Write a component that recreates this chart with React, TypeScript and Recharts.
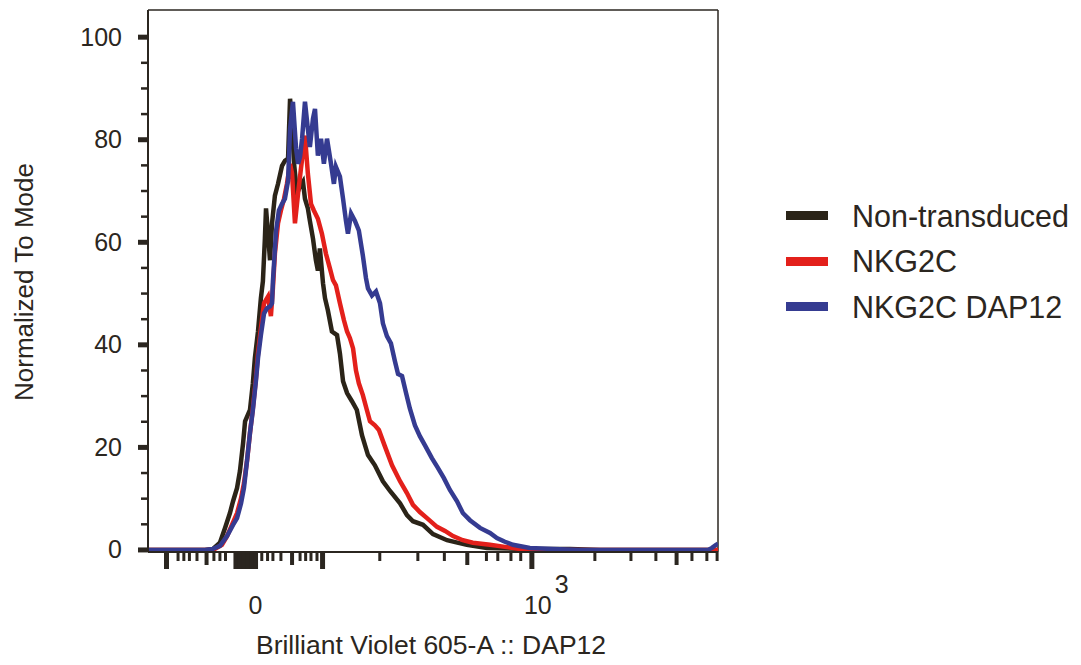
import React from 'react';
import { LineChart, Line, XAxis, YAxis, ReferenceLine } from 'recharts';

// ---------- data (x = display channel 0..256, y = % of mode) ----------
const CHANNEL_DOMAIN: [number, number] = [0, 256];
const Y_DOMAIN: [number, number] = [-0.4, 105.3];

const nonTransducedX = [0, 25.6, 29.2, 32.3, 34.6, 36.8, 38.2, 40.0, 41.3, 42.7, 43.6, 45.8, 47.1, 48.0, 49.4, 50.7, 51.6, 52.5, 53.0, 53.9, 54.8, 55.7, 57.0, 58.4, 60.2, 61.5, 62.9, 63.8, 64.7, 65.6, 66.9, 68.3, 69.6, 70.5, 71.8, 72.7, 74.1, 75.4, 76.3, 77.2, 78.6, 79.5, 80.8, 82.6, 84.9, 86.2, 87.6, 89.4, 91.6, 93.8, 96.1, 98.8, 101.9, 105.5, 108.7, 113.2, 116.3, 119.0, 123.5, 128.0, 134.3, 143.2, 152.2, 171.5, 189.5, 203, 256];
const nonTransducedY = [0, 0, 0.2, 1.4, 4.3, 7.2, 9.5, 12.1, 15.4, 20.8, 25.1, 27.3, 32.5, 37.4, 42.6, 49.1, 52.4, 60.7, 66.6, 61.7, 56.5, 63.7, 69.1, 71.4, 74.9, 75.9, 76.3, 88.0, 83.1, 75.3, 69.5, 70.9, 71.8, 68.5, 66.6, 64.2, 60.7, 56.5, 54.5, 58.8, 52.0, 49.1, 46.7, 42.6, 41.9, 38.3, 32.9, 30.6, 29.0, 27.3, 22.4, 18.5, 16.5, 13.4, 11.5, 9.1, 6.8, 5.6, 4.9, 3.1, 1.9, 1.0, 0.4, 0.2, 0.2, 0, 0];

const nkg2cX = [0, 26.9, 30.1, 33.2, 35.5, 37.7, 40.0, 41.8, 43.1, 44.5, 45.8, 47.1, 48.5, 49.4, 50.7, 52.1, 53.9, 55.2, 56.1, 57.0, 58.4, 59.7, 61.1, 62.4, 63.8, 64.7, 66.0, 67.4, 68.7, 70.5, 71.8, 73.2, 74.5, 76.3, 78.1, 79.9, 81.7, 83.1, 84.4, 86.2, 88.0, 89.4, 90.7, 92.1, 93.4, 94.7, 96.5, 98.3, 99.7, 101.9, 103.7, 106.4, 109.6, 113.2, 116.3, 119.0, 122.1, 125.3, 129.8, 133.4, 137.0, 141.4, 145.9, 153.6, 160.3, 167.0, 176, 256];
const nkg2cY = [0, 0, 0.2, 1.0, 2.7, 4.9, 7.2, 10.1, 13.0, 17.5, 22.8, 27.6, 33.5, 38.3, 43.2, 48.1, 49.4, 45.6, 51.0, 57.8, 63.7, 66.2, 68.5, 71.4, 75.3, 73.4, 63.7, 69.5, 74.4, 80.8, 73.4, 67.5, 66.2, 64.6, 61.7, 57.8, 54.9, 52.6, 51.6, 48.1, 44.8, 42.6, 41.3, 39.3, 35.0, 32.5, 30.2, 27.3, 25.1, 24.3, 23.4, 20.2, 16.5, 13.4, 11.1, 8.8, 7.4, 6.2, 4.5, 3.7, 2.7, 1.9, 1.4, 1.0, 0.6, 0.2, 0, 0];

const nkg2cDap12X = [0, 25.6, 29.2, 32.3, 35.5, 38.2, 40.0, 41.8, 43.1, 44.5, 45.8, 47.1, 48.5, 49.4, 50.7, 52.1, 53.4, 54.8, 55.7, 56.1, 57.5, 58.8, 60.2, 61.5, 62.9, 63.8, 65.1, 66.5, 67.4, 68.3, 69.2, 70.5, 71.8, 72.7, 74.1, 75.0, 76.3, 77.7, 79.0, 80.4, 82.2, 83.5, 84.4, 86.2, 87.6, 88.9, 89.8, 91.2, 92.9, 94.7, 96.5, 97.9, 98.8, 100.6, 102.4, 104.2, 105.5, 107.3, 109.1, 110.9, 112.3, 114.1, 115.9, 117.6, 119.9, 122.1, 124.4, 127.5, 130.2, 132.9, 135.6, 138.8, 141.4, 144.6, 149.1, 153.6, 156.7, 160.3, 163.9, 171.5, 181.9, 194, 251.5, 253.3, 255.1, 256];
const nkg2cDap12Y = [0, 0, 0.2, 0.8, 2.7, 4.9, 6.2, 9.1, 12.1, 17.5, 22.8, 27.3, 33.1, 37.4, 41.9, 46.1, 47.1, 47.5, 48.1, 52.4, 62.1, 66.2, 67.5, 68.5, 72.0, 82.1, 87.4, 78.3, 75.3, 76.7, 80.2, 87.4, 82.1, 78.6, 84.1, 86.0, 76.9, 80.2, 75.3, 80.2, 75.3, 71.4, 74.7, 72.8, 68.5, 64.2, 61.7, 65.6, 64.2, 62.3, 57.4, 53.0, 51.0, 49.6, 50.4, 48.1, 44.2, 41.7, 40.3, 36.8, 34.3, 33.9, 30.6, 27.6, 24.3, 22.2, 20.4, 17.9, 16.0, 14.0, 11.7, 9.5, 7.2, 5.8, 4.3, 3.3, 2.3, 1.6, 1.0, 0.4, 0.2, 0, 0, 0.4, 1.0, 1.2];

const seriesNames = ['Non-transduced', 'NKG2C', 'NKG2C DAP12'];
const seriesColors = ['#2b2418', '#e3201b', '#353b91'];

// x-axis tick positions (display channels) on the biexponential scale
const xMajorTicks = [8.3, 39.5, 41.3, 43.1, 44.9, 46.7, 48.3, 78.4, 172.4];
const xMediumTicks = [26.3, 64.7, 143.4, 237.4];
const xMinorTicks = [13.5, 16.1, 18.6, 22.0, 29.6, 32.3, 34.8, 51.1, 53.7, 56.1, 59.7, 68.3, 70.8, 73.2, 75.9, 104.1, 121.2, 133.1, 152.0, 157.1, 163.0, 167.4, 200.7, 216.9, 228.1, 244.3, 251.0, 255.6];
const xZeroLabelAt = 48.3;
const xDecadeLabelAt = 172.4;
const xZeroLabel = '0';
const xDecadeBase = '10';
const xDecadeExp = '3';

const yTicks = [0, 5, 10, 15, 20, 25, 30, 35, 40, 45, 50, 55, 60, 65, 70, 75, 80, 85, 90, 95, 100];
const yLabelled = [0, 20, 40, 60, 80, 100];

const xTitle = 'Brilliant Violet 605-A :: DAP12';
const yTitle = 'Normalized To Mode';

// ---------- helpers ----------
const FONT = '"Liberation Sans", Arial, Helvetica, sans-serif';
const INK = '#2b2620';

const toPoints = (xs: number[], ys: number[]) => xs.map((x, i) => ({ x, y: ys[i] }));
const seriesData = [
  toPoints(nonTransducedX, nonTransducedY),
  toPoints(nkg2cX, nkg2cY),
  toPoints(nkg2cDap12X, nkg2cDap12Y),
];

const allXTicks = [...xMajorTicks, ...xMediumTicks, ...xMinorTicks].sort((a, b) => a - b);
const near = (arr: number[], v: number) => arr.some((a) => Math.abs(a - v) < 1e-6);

const XTick = (props: any) => {
  const { x, y, payload } = props;
  const v = payload.value;
  let len = 9;
  let w = 3;
  if (near(xMajorTicks, v)) { len = 17; w = 5; }
  else if (near(xMediumTicks, v)) { len = 13; w = 4; }
  return (
    <g>
      <line x1={x} x2={x} y1={y} y2={y + len} stroke={INK} strokeWidth={w} />
      {Math.abs(v - xZeroLabelAt) < 1e-6 && (
        <text x={x} y={y + 62} textAnchor="middle" fontFamily={FONT} fontSize={25} fill={INK}>{xZeroLabel}</text>
      )}
      {Math.abs(v - xDecadeLabelAt) < 1e-6 && (
        <g>
          <text x={x + 6} y={y + 62} textAnchor="middle" fontFamily={FONT} fontSize={25} fill={INK}>{xDecadeBase}</text>
          <text x={x + 23} y={y + 41} textAnchor="start" fontFamily={FONT} fontSize={25} fill={INK}>{xDecadeExp}</text>
        </g>
      )}
    </g>
  );
};

const YTick = (props: any) => {
  const { x, y, payload } = props;
  const v = payload.value;
  const major = yLabelled.includes(v);
  return (
    <g>
      <line x1={x - (major ? 10 : 7)} x2={x} y1={y} y2={y} stroke={INK} strokeWidth={major ? 5 : 2.5} />
      {major && (
        <text x={x - 26} y={y + 8.5} textAnchor="end" fontFamily={FONT} fontSize={25} fill={INK}>{v}</text>
      )}
    </g>
  );
};

const XTitle = () => (
  <text x={431} y={654} textAnchor="middle" fontFamily={FONT} fontSize={26.5} fill={INK}>{xTitle}</text>
);
const YTitle = () => (
  <text x={33} y={282} transform="rotate(-90 33 282)" textAnchor="middle" fontFamily={FONT} fontSize={26} fill={INK}>{yTitle}</text>
);

const LegendBox = () => (
  <div style={{ position: 'absolute', left: 786, top: 193, display: 'flex', flexDirection: 'column', fontFamily: FONT }}>
    {seriesNames.map((name, i) => (
      <div key={name} style={{ display: 'flex', alignItems: 'center', height: 45.5 }}>
        <div style={{ width: 42, height: 9, background: seriesColors[i] }} />
        <span style={{ marginLeft: 24, fontSize: 30.5, color: INK, lineHeight: '30px', whiteSpace: 'nowrap' }}>{name}</span>
      </div>
    ))}
  </div>
);

export default function App() {
  return (
    <div style={{ width: 1081, height: 665, background: '#fff', position: 'relative' }}>
      <style>{`body{margin:0;background:#fff}`}</style>
      <LineChart
        width={1081}
        height={665}
        margin={{ top: 10, right: 363, bottom: 53, left: 88 }}
      >
        <XAxis
          type="number"
          dataKey="x"
          domain={CHANNEL_DOMAIN}
          ticks={allXTicks}
          interval={0}
          allowDataOverflow
          tickLine={false}
          tickSize={0}
          tickMargin={0}
          height={60}
          axisLine={{ stroke: INK, strokeWidth: 2 }}
          tick={<XTick />}
          label={<XTitle />}
        />
        <YAxis
          type="number"
          domain={Y_DOMAIN}
          ticks={yTicks}
          interval={0}
          allowDataOverflow
          tickLine={false}
          tickSize={0}
          tickMargin={0}
          width={60}
          axisLine={{ stroke: INK, strokeWidth: 2 }}
          tick={<YTick />}
          label={<YTitle />}
        />
        <ReferenceLine y={Y_DOMAIN[1]} stroke={INK} strokeWidth={1.5} />
        <ReferenceLine x={CHANNEL_DOMAIN[1]} stroke={INK} strokeWidth={1.5} />
        {seriesData.map((d, i) => (
          <Line
            key={seriesNames[i]}
            data={d}
            dataKey="y"
            name={seriesNames[i]}
            type="linear"
            stroke={seriesColors[i]}
            strokeWidth={4.5}
            dot={false}
            activeDot={false}
            isAnimationActive={false}
          />
        ))}
      </LineChart>
      <LegendBox />
    </div>
  );
}
